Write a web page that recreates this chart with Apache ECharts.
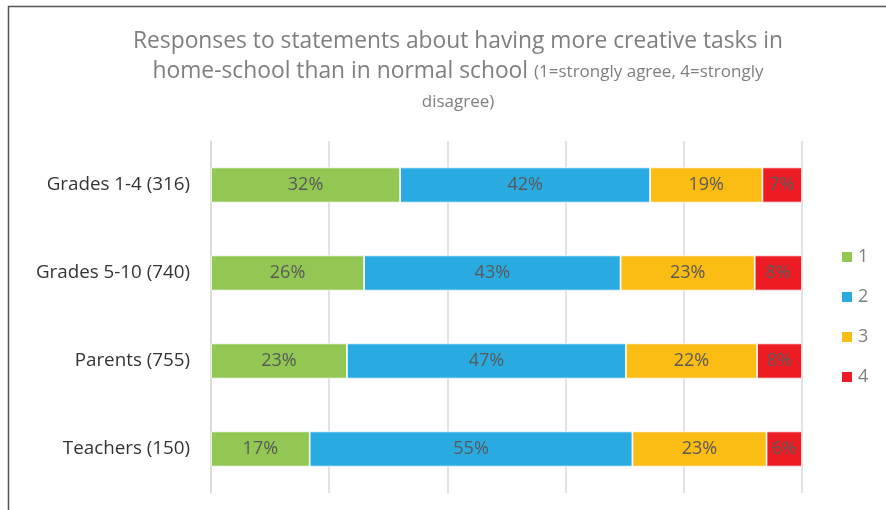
<!DOCTYPE html>
<html>
<head>
<meta charset="utf-8">
<script src="https://cdn.jsdelivr.net/npm/echarts@6/dist/echarts.min.js"></script>
<style>
html,body{margin:0;padding:0;background:#fff;}
#chart{width:886px;height:510px;}
</style>
</head>
<body>
<div id="chart"></div>
<script>
var categories = ['Grades 1-4 (316)', 'Grades 5-10 (740)', 'Parents (755)', 'Teachers (150)'];
var seriesNames = ['1', '2', '3', '4'];
var values1 = [32.0, 25.9, 23.0, 16.7];
var values2 = [42.3, 43.4, 47.2, 54.6];
var values3 = [19.0, 22.7, 22.2, 22.7];
var values4 = [6.7, 8.0, 7.6, 6.0];
var colors = ['#92c753', '#29abe2', '#fbbd13', '#ed1c24'];

var FONT = '"Open Sans", sans-serif';
var allValues = [values1, values2, values3, values4];

var chart = echarts.init(document.getElementById('chart'));
chart.setOption({
  animation: false,
  textStyle: { fontFamily: FONT },
  graphic: [{
    type: 'rect', left: 6, top: 4, shape: { width: 900, height: 600 },
    style: { fill: 'none', stroke: '#555', lineWidth: 1.5 }, silent: true, z: 100
  }],
  title: {
    left: 453, top: 22, textAlign: 'center',
    text: '{a|Responses to statements about having more creative tasks in}\n{a|home-school than in normal school }{b|(1=strongly agree, 4=strongly}\n{b|disagree)}',
    textStyle: {
      fontWeight: 'normal',
      rich: {
        a: { fontFamily: FONT, fontSize: 22.8, fontWeight: 'normal', color: '#7f7f7f', lineHeight: 30 },
        b: { fontFamily: FONT, fontSize: 17, fontWeight: 'normal', color: '#7f7f7f', lineHeight: 30 }
      }
    }
  },
  legend: {
    orient: 'vertical', left: 840, top: 248, padding: 0,
    itemWidth: 12, itemHeight: 12, itemGap: 22,
    icon: 'rect',
    textStyle: { fontFamily: FONT, fontSize: 18, lineHeight: 18, color: '#7f7f7f' },
    data: seriesNames
  },
  grid: { left: 211, right: 84, top: 141, bottom: 17, containLabel: false },
  xAxis: {
    type: 'value', min: 0, max: 100, interval: 20,
    axisLabel: { show: false }, axisLine: { show: false }, axisTick: { show: false },
    splitLine: { show: true, lineStyle: { color: '#d9d9d9', width: 1.5 } }
  },
  yAxis: {
    type: 'category', data: categories, inverse: true,
    axisLine: { show: true, lineStyle: { color: '#d9d9d9', width: 1.5 } },
    axisTick: { show: false },
    axisLabel: { fontFamily: FONT, fontSize: 18.8, color: '#333333', margin: 21 }
  },
  series: seriesNames.map(function (n, i) {
    return {
      name: n, type: 'bar', stack: 'total', barWidth: '40%',
      data: allValues[i],
      itemStyle: { color: colors[i], borderColor: '#fff', borderWidth: 0.8 },
      label: {
        show: true, position: 'inside', fontFamily: FONT, fontSize: 18, color: '#595959',
        formatter: function (p) { return Math.round(p.value) + '%'; }
      }
    };
  })
});
</script>
</body>
</html>
